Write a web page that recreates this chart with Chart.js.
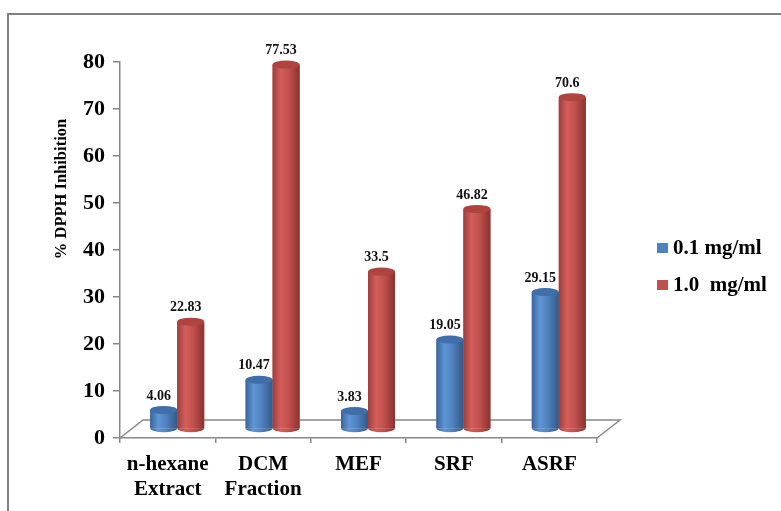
<!DOCTYPE html>
<html>
<head>
<meta charset="utf-8">
<script src="https://cdn.jsdelivr.net/npm/chart.js@4.4.1/dist/chart.umd.min.js"></script>
<style>
  html, body { margin: 0; padding: 0; background: #ffffff; overflow: hidden; }
  canvas { display: block; }
</style>
</head>
<body>
<canvas id="chart" width="781" height="511"></canvas>
<script>
// Extracts / fractions tested
const categories = [["n-hexane", "Extract"], ["DCM", "Fraction"], "MEF", "SRF", "ASRF"];
// Concentration series
const seriesNames = ["0.1 mg/ml", "1.0  mg/ml"];
const inhibitionLow = [4.06, 10.47, 3.83, 19.05, 29.15];
const inhibitionHigh = [22.83, 77.53, 33.5, 46.82, 70.6];
// Value axis
const yMin = 0, yMax = 80, yStep = 10;
const yTitle = "% DPPH Inhibition";

const SERIF = "'Liberation Serif', 'Times New Roman', serif";
const AXIS_GREY = "#878787";

// cylinder shading per series
const shades = [
  { base: "#4F81BD", edge: "#3B659A", light: "#5F95D6", dark: "#335986", top: "#3F6EA8" },
  { base: "#C0504D", edge: "#9E3E3C", light: "#D35E5B", dark: "#8A3230", top: "#AE433F" }
];

// floor depth of the 3-D plot
const DEPTH = { dx: 23, dy: 18 };
const BAR_SHIFT = { dx: 9.5, dy: -9 };
const RY = 4; // ellipse half-height for the cylinder caps

const cylinderPlugin = {
  id: "cylinders",
  beforeDraw(chart) {
    const ctx = chart.ctx;
    ctx.save();
    ctx.strokeStyle = "#808080";
    ctx.lineWidth = 2;
    ctx.strokeRect(8, 14, 820, 540);
    ctx.restore();
  },
  beforeDatasetsDraw(chart) {
    const { ctx, chartArea: a } = chart;
    // floor of the 3-D plot
    ctx.save();
    ctx.strokeStyle = AXIS_GREY;
    ctx.lineWidth = 1.5;
    ctx.beginPath();
    ctx.moveTo(a.left, a.bottom);
    ctx.lineTo(a.left + DEPTH.dx, a.bottom - DEPTH.dy);
    ctx.lineTo(a.right + DEPTH.dx, a.bottom - DEPTH.dy);
    ctx.lineTo(a.right, a.bottom);
    ctx.stroke();
    ctx.restore();
    // bars stand at mid-depth of the floor
    ctx.save();
    ctx.translate(BAR_SHIFT.dx, BAR_SHIFT.dy);
  },
  afterDatasetsDraw(chart) {
    const ctx = chart.ctx;
    chart.data.datasets.forEach((ds, di) => {
      const meta = chart.getDatasetMeta(di);
      const s = shades[di];
      meta.data.forEach((el, i) => {
        const { x, y, base, width } = el.getProps(["x", "y", "base", "width"], true);
        const left = x - width / 2;
        const g = ctx.createLinearGradient(left, 0, left + width, 0);
        g.addColorStop(0, s.edge);
        g.addColorStop(0.3, s.light);
        g.addColorStop(0.6, s.base);
        g.addColorStop(1, s.dark);
        ctx.fillStyle = g;
        ctx.fillRect(left, y, width, base - y);
        ctx.beginPath();
        ctx.ellipse(x, base, width / 2, RY, 0, 0, Math.PI);
        ctx.fill();
        ctx.beginPath();
        ctx.ellipse(x, y, width / 2, RY, 0, 0, Math.PI * 2);
        ctx.fillStyle = s.top;
        ctx.fill();
        // value label
        ctx.fillStyle = "#111";
        ctx.font = "bold 14px " + SERIF;
        ctx.textAlign = "center";
        ctx.textBaseline = "middle";
        ctx.fillText(String(ds.data[i]), x - 5, y - 14);
      });
    });
    ctx.restore();
  },
  afterDraw(chart) {
    const ctx = chart.ctx;
    // y-axis title
    ctx.save();
    ctx.translate(62, 189);
    ctx.rotate(-Math.PI / 2);
    ctx.fillStyle = "#000";
    ctx.font = "bold 16.5px " + SERIF;
    ctx.textAlign = "center";
    ctx.textBaseline = "middle";
    ctx.fillText(yTitle, 0, 0);
    ctx.restore();
    // legend
    ctx.save();
    const rows = [248, 285];
    chart.data.datasets.forEach((ds, di) => {
      ctx.fillStyle = shades[di].base;
      ctx.fillRect(657, rows[di] - 5, 11, 10);
      ctx.fillStyle = "#000";
      ctx.font = "bold 21px " + SERIF;
      ctx.textAlign = "left";
      ctx.textBaseline = "middle";
      ctx.fillText(ds.label, 673, rows[di] + 1);
    });
    ctx.restore();
  }
};

new Chart(document.getElementById("chart"), {
  type: "bar",
  data: {
    labels: categories,
    datasets: [
      { label: seriesNames[0], data: inhibitionLow, backgroundColor: shades[0].base, clip: false },
      { label: seriesNames[1], data: inhibitionHigh, backgroundColor: shades[1].base, clip: false }
    ]
  },
  options: {
    responsive: false,
    animation: false,
    events: [],
    layout: { padding: { top: 62, right: 184, bottom: 0, left: 0 } },
    datasets: { bar: { categoryPercentage: 0.566, barPercentage: 1.0 } },
    plugins: { legend: { display: false }, tooltip: { enabled: false } },
    scales: {
      x: {
        afterFit(scale) { scale.height = 73; },
        border: { display: true, color: AXIS_GREY, width: 1.5 },
        grid: { display: true, drawOnChartArea: false, drawTicks: true, tickLength: 5, color: AXIS_GREY, lineWidth: 1.5 },
        ticks: { color: "#000", padding: 9, maxRotation: 0, font: { family: SERIF, size: 21, weight: "bold", lineHeight: 1.2 } }
      },
      y: {
        min: yMin, max: yMax,
        afterFit(scale) { scale.width = 120; },
        border: { display: true, color: AXIS_GREY, width: 1.5 },
        grid: { display: true, drawOnChartArea: false, drawTicks: true, tickLength: 7, color: AXIS_GREY, lineWidth: 1.5 },
        ticks: { stepSize: yStep, color: "#000", padding: 8, font: { family: SERIF, size: 22, weight: "bold" } }
      }
    }
  },
  plugins: [cylinderPlugin]
});
</script>
</body>
</html>
